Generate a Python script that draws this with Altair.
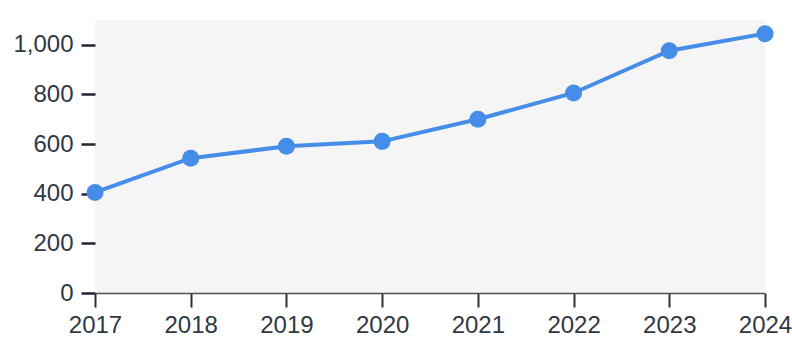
import altair as alt
import pandas as pd

years = [2017, 2018, 2019, 2020, 2021, 2022, 2023, 2024]
values = [405, 543, 591, 611, 700, 806, 976, 1045]

df = pd.DataFrame({"year": years, "value": values})

x = alt.X("year:Q", scale=alt.Scale(domain=[2017, 2024], nice=False, zero=False),
          axis=alt.Axis(title=None, format="d", values=years, grid=False,
                        tickSize=14, tickWidth=2, tickColor="#2a323c",
                        domainColor="#4a525c", domainWidth=1.5, labelFlush=False,
                        labelOverlap=False,
                        labelFontSize=24, labelColor="#2f3843", labelPadding=6,
                        labelFont="Liberation Sans"))
y = alt.Y("value:Q", scale=alt.Scale(domain=[0, 1100], nice=False),
          axis=alt.Axis(title=None, values=[0, 200, 400, 600, 800, 1000], format=",.0f",
                        grid=False, domain=False, tickSize=14, tickWidth=2.5,
                        tickColor="#1f2731", labelFontSize=24, labelColor="#2f3843",
                        labelPadding=8, labelFont="Liberation Sans", labelFlush=False))

base = alt.Chart(df).encode(x=x, y=y)
line = base.mark_line(color="#458de8", strokeWidth=4)
pts = base.mark_point(filled=True, color="#458de8", size=290, opacity=1)

chart = (line + pts).properties(
    width=670, height=273,
    autosize=alt.AutoSizeParams(type="none"),
    padding={"left": 95, "top": 20, "right": 27, "bottom": 46},
    background="white",
).configure_view(fill="#f5f5f5", stroke=None)

chart.save("out.html", embed_options={"renderer": "svg", "actions": False})
